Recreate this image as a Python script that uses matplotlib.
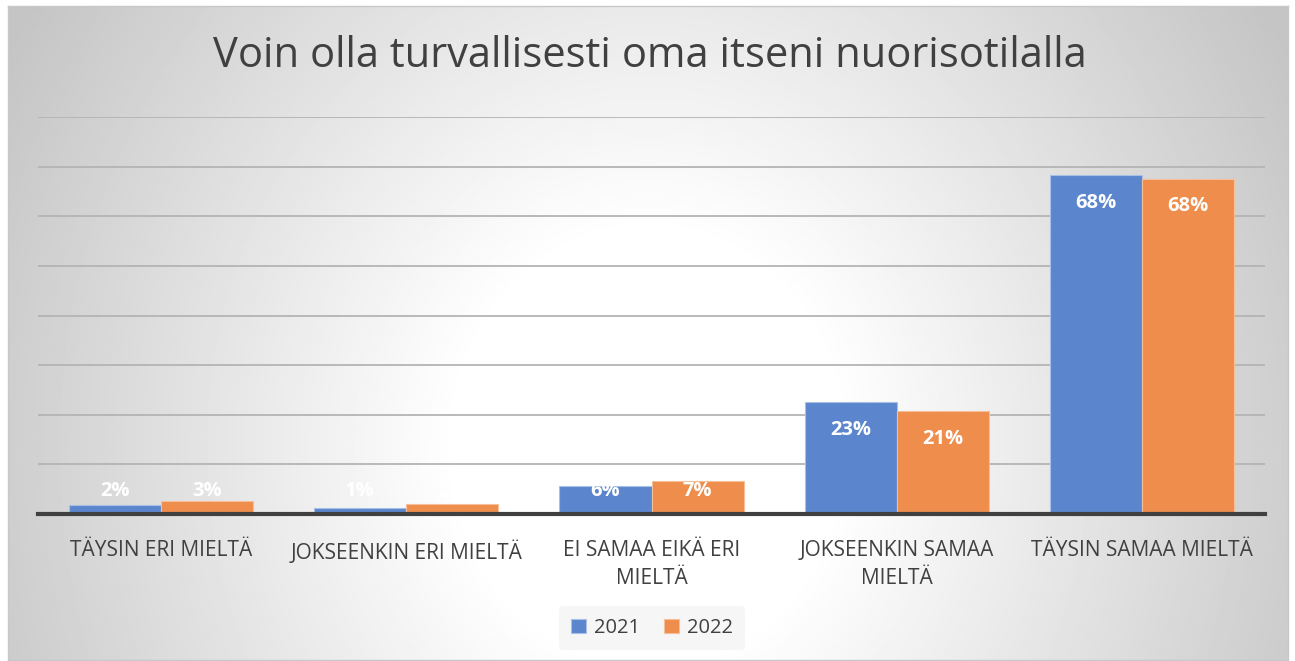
import numpy as np
import matplotlib.pyplot as plt

# data
categories = ["TÄYSIN ERI MIELTÄ", "JOKSEENKIN ERI MIELTÄ", "EI SAMAA EIKÄ ERI\nMIELTÄ",
              "JOKSEENKIN SAMAA\nMIELTÄ", "TÄYSIN SAMAA MIELTÄ"]
vals_2021 = [1.9, 1.3, 5.7, 22.6, 68.3]
vals_2022 = [2.6, 2.1, 6.7, 20.7, 67.6]
series_names = ["2021", "2022"]

BLUE = "#5b86ce"
ORANGE = "#ee8d4c"
TEXT = "#404040"

plt.rcParams['font.family'] = ['Open Sans', 'DejaVu Sans']

W, H = 1295, 661
fig = plt.figure(figsize=(W / 100, H / 100), dpi=100)
fig.patch.set_facecolor("white")

# chart area with radial grey gradient (white spot low in the middle)
x0, y0, x1, y1 = 8, 6, 1288, 660
bg = fig.add_axes([x0 / W, 1 - y1 / H, (x1 - x0) / W, (y1 - y0) / H])
gx, gy = np.meshgrid(np.linspace(-1, 1, 640), np.linspace(-1, 1, 330))
r = np.sqrt(gx ** 2 + ((gy - 0.35) / 2.2) ** 2)
shade = 1 - 0.23 * np.clip((r - 0.3) / 0.85, 0, 1)
bg.imshow(shade, cmap="gray", vmin=0, vmax=1, aspect="auto", extent=[0, 1, 0, 1],
          interpolation="bilinear")
bg.set_xticks([])
bg.set_yticks([])
for s in bg.spines.values():
    s.set_color("#c8c8c8")
    s.set_linewidth(1)

# plot area
ax = fig.add_axes([38 / W, 1 - 514 / H, (1265 - 38) / W, (514 - 117) / H])
ax.patch.set_alpha(0)
x = np.arange(len(categories))
bw = 0.375
b1 = ax.bar(x - bw / 2, vals_2021, bw, color=BLUE, edgecolor="#a9c0e6", linewidth=0.8,
            label=series_names[0], zorder=3)
b2 = ax.bar(x + bw / 2, vals_2022, bw, color=ORANGE, edgecolor="#f5bf9a", linewidth=0.8,
            label=series_names[1], zorder=3)

ax.set_xlim(-0.5, len(categories) - 0.5)
ax.set_ylim(0, 80)
ax.set_yticks(np.arange(10, 81, 10))
ax.yaxis.grid(True, color="#b4b4b4", linewidth=1.3, zorder=0)
ax.tick_params(axis="y", length=0, labelleft=False)
ax.tick_params(axis="x", length=0, pad=19, labelsize=15, labelcolor=TEXT)
ax.set_xticks(x)
ax.set_xticklabels(categories, linespacing=1.4)
for side in ["top", "right", "left"]:
    ax.spines[side].set_visible(False)
ax.spines["bottom"].set_color("#404040")
ax.spines["bottom"].set_linewidth(3)
ax.spines["bottom"].set_zorder(4)

# data labels, white, inside end (pushed up for short bars)
for bars, vals in [(b1, vals_2021), (b2, vals_2022)]:
    for rect, v in zip(bars, vals):
        ly = max(v - 5.6, 4.7)
        ax.text(rect.get_x() + rect.get_width() / 2, ly, f"{v:.0f}%", ha="center", va="center",
                color="white", fontsize=14.5, fontweight="bold", zorder=5)

fig.text(0.502, 1 - 56 / H, "Voin olla turvallisesti oma itseni nuorisotilalla", ha="center",
         va="center", fontsize=30, color=TEXT)

# legend box
lg = fig.legend(handles=[b1, b2], loc="center", bbox_to_anchor=(652 / W, 1 - 628 / H), ncol=2,
                frameon=True, fontsize=14.5, handlelength=0.75, handleheight=0.75,
                handletextpad=0.4, columnspacing=1.2, labelcolor=TEXT, borderpad=0.6)
lg.get_frame().set_facecolor("#f4f4f4")
lg.get_frame().set_edgecolor("none")
lg.get_frame().set_alpha(0.8)

fig.savefig("out.png", dpi=100)
